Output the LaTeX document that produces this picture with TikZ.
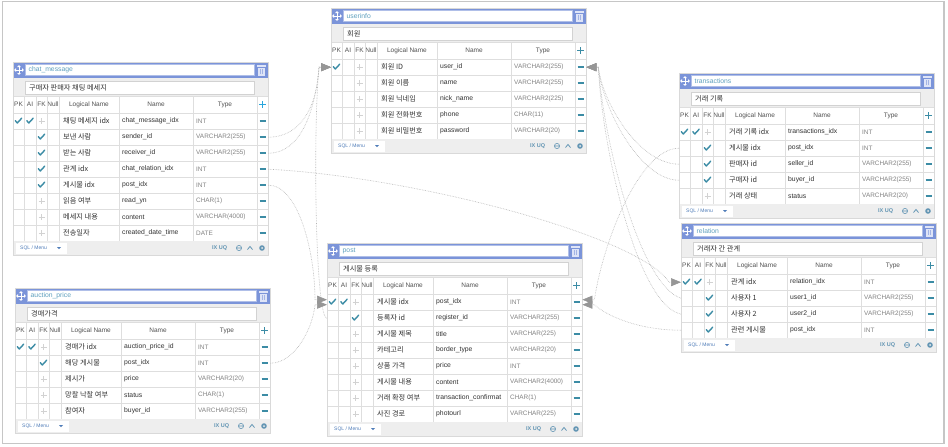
\documentclass[tikz,border=0pt]{standalone}
\usepackage{fontspec}
\setmainfont{Liberation Sans}
\newfontfamily\krfont{Noto Sans CJK KR}
\usetikzlibrary{arrows.meta,calc}
\definecolor{titleblue}{RGB}{123,148,217}
\definecolor{trashc}{RGB}{222,228,247}
\definecolor{titletxt}{RGB}{95,160,190}
\definecolor{chkc}{RGB}{60,140,165}
\definecolor{gridc}{RGB}{222,222,222}
\definecolor{cmtbg}{RGB}{238,238,238}
\definecolor{linkc}{RGB}{80,125,185}
\definecolor{iconc}{RGB}{100,150,180}
\definecolor{pluscyan}{RGB}{40,165,220}
\definecolor{txtc}{RGB}{50,50,50}
\definecolor{typec}{RGB}{130,130,130}
\definecolor{connc}{RGB}{180,180,180}
\definecolor{arrc}{RGB}{150,150,150}
\tikzset{
  txt/.style={inner sep=0pt, text=txtc, font=\fontsize{6.8}{8}\selectfont},
  krtxt/.style={inner sep=0pt, text=txtc, font=\krfont\fontsize{7.2}{8}\selectfont},
  tytxt/.style={inner sep=0pt, text=typec, font=\fontsize{6.4}{7}\selectfont},
  hdtxt/.style={inner sep=0pt, text=txtc!85, font=\fontsize{6.5}{7}\selectfont},
  ttltxt/.style={inner sep=0pt, text=titletxt, font=\fontsize{6.8}{8}\selectfont},
  ftxt/.style={inner sep=0pt, text=linkc, font=\fontsize{5}{6}\selectfont},
  icontxt/.style={inner sep=0pt, text=iconc, font=\bfseries\fontsize{5.5}{6}\selectfont},
  rowbox/.style={inner sep=0pt, minimum width=255pt, minimum height=16pt, anchor=north west},
  conn/.style={draw=connc, densely dotted, line width=0.6pt, -{Triangle[length=10pt,width=8pt,color=arrc]}},
  chk/.pic={\draw[chkc, line width=1.4pt, line cap=round, line join=round] (-3.2,-0.3) -- (-1.2,2) -- (3.2,-2.8);},
  crs/.pic={\draw[gray!35, line width=0.5pt] (-3,0) -- (3,0) (0,-3) -- (0,3);},
  movei/.pic={\draw[white, line width=0.8pt] (0,-4) -- (0,4) (-4,0) -- (4,0);
    \fill[white] (0,-5) -- (-1.8,-3) -- (1.8,-3) -- cycle (0,5) -- (-1.8,3) -- (1.8,3) -- cycle
      (-5,0) -- (-3,-1.8) -- (-3,1.8) -- cycle (5,0) -- (3,-1.8) -- (3,1.8) -- cycle;}
}
\newcommand\erdtable[8]{%
\begin{scope}[shift={(#2,#3)}]
 \pgfmathsetmacro\rbot{51+16*#4}
 \pgfmathsetmacro\tbot{\rbot+14}
 \pgfmathsetmacro\fy{\rbot+7}
 \fill[white] (0,0) rectangle (255,\tbot);
 \fill[titleblue] (0,0) rectangle (255,16);
 \draw[fill=white, draw=titleblue!60] (12,2.5) rectangle (241,13.5);
 \node[ttltxt, anchor=west] at (15.5,8) {#5};
 \pic at (6,8) {movei};
 \fill[trashc] (245,5.5) rectangle (251.5,13.5);
 \fill[trashc] (244,3.3) rectangle (252.5,4.7);
 \draw[titleblue!70, line width=0.4pt] (247,7) -- (247,12) (249.5,7) -- (249.5,12);
 \fill[cmtbg] (0,16) rectangle (255,34);
 \draw[fill=white, draw=gray!35] (12,19) rectangle (241,32);
 \node[krtxt, anchor=west] at (16,25.5) {#6};
 \node[hdtxt] at (5.5,42.5) {PK};
 \node[hdtxt] at (17,42.5) {AI};
 \node[hdtxt] at (28.5,42.5) {FK};
 \node[hdtxt] at (40,42.5) {Null};
 \node[hdtxt] at (76,42.5) {Logical Name};
 \node[hdtxt] at (143,42.5) {Name};
 \node[hdtxt] at (212,42.5) {Type};
 \draw[#8, line width=1.3pt] (246,42.5) -- (253,42.5) (249.5,39) -- (249.5,46);
 \draw[gridc] (0,34) -- (255,34);
 \foreach \gx in {11,23,34,46,106,180,244} \draw[gridc] (\gx,34) -- (\gx,\rbot);
 \foreach \gi in {0,...,#4} \draw[gridc] (0,{51+16*\gi}) -- (255,{51+16*\gi});
 \foreach \cPK/\cAI/\cFK/\cLg/\cNm/\cTy [count=\ri] in {#7} {
   \node[rowbox] (#1-\ri) at (0,{51+16*(\ri-1)}) {};
   \pgfmathsetmacro\yc{43+16*\ri}
   \ifnum\cPK=1 \pic at (5.5,\yc) {chk};\fi
   \ifnum\cAI=1 \pic at (17,\yc) {chk};\fi
   \ifnum\cFK=1 \pic at (28.5,\yc) {chk};\else \pic at (28.5,\yc) {crs};\fi
   \node[krtxt, anchor=west] at (50,\yc) {\cLg};
   \node[txt, anchor=west] at (109,\yc) {\cNm};
   \node[tytxt, anchor=west] at (183,\yc) {\cTy};
   \draw[chkc, line width=1.1pt] (246.5,\yc) -- (252.5,\yc);
 }
 \fill[cmtbg] (0,\rbot) rectangle (255,\tbot);
 \fill[white] (3,{\rbot+2}) rectangle (54,{\rbot+12.5});
 \node[ftxt, anchor=west] at (7,\fy) {SQL / Menu};
 \fill[linkc] (44,{\fy-1}) -- (48,{\fy-1}) -- (46,{\fy+1.2}) -- cycle;
 \node[icontxt, anchor=west] at (199,\fy) {IX UQ};
 \draw[iconc, line width=0.6pt] (226,\fy) circle (2.6pt) (223.4,\fy) -- (228.6,\fy);
 \draw[iconc, line width=0.8pt] (234.5,{\fy+1.5}) -- (237,{\fy-1.5}) -- (239.5,{\fy+1.5});
 \fill[iconc] (249,\fy) circle (2.8pt);
 \fill[cmtbg] (249,\fy) circle (1pt);
 \draw[gray!30] (0,0) rectangle (255,\tbot);
\end{scope}}
\begin{document}
\begin{tikzpicture}[x=1pt,y=-1pt]
\useasboundingbox (0,0) rectangle (948,447);
\fill[white] (0,0) rectangle (948,447);
\draw[gray!45, line width=1.2pt] (2.5,1.2) rectangle (944,443.5);

\erdtable{chat}{13}{62}{8}{chat\_message}{구매자 판매자 채팅 메세지}{%
1/1/0/채팅 메세지 idx/chat\_message\_idx/INT,
0/0/1/보낸 사람/sender\_id/VARCHAR2(255),
0/0/1/받는 사람/receiver\_id/VARCHAR2(255),
0/0/1/관계 idx/chat\_relation\_idx/INT,
0/0/1/게시물 idx/post\_idx/INT,
0/0/0/읽음 여부/read\_yn/CHAR(1),
0/0/0/메세지 내용/content/VARCHAR(4000),
0/0/0/전송일자/created\_date\_time/DATE}{pluscyan}

\erdtable{user}{331}{8}{5}{userinfo}{회원}{%
1/0/0/회원 ID/user\_id/VARCHAR2(255),
0/0/0/회원 이름/name/VARCHAR2(255),
0/0/0/회원 닉네임/nick\_name/VARCHAR2(225),
0/0/0/회원 전화번호/phone/CHAR(11),
0/0/0/회원 비밀번호/password/VARCHAR2(20)}{chkc}

\erdtable{trans}{679}{73}{5}{transactions}{거래 기록}{%
1/1/0/거래 기록 idx/transactions\_idx/INT,
0/0/1/게시물 idx/post\_idx/INT,
0/0/1/판매자 id/seller\_id/VARCHAR2(255),
0/0/1/구매자 id/buyer\_id/VARCHAR2(255),
0/0/0/거래 상태/status/VARCHAR2(20)}{chkc}

\erdtable{rel}{681}{223}{4}{relation}{거래자 간 관계}{%
1/1/0/관계 idx/relation\_idx/INT,
0/0/1/사용자 1/user1\_id/VARCHAR2(255),
0/0/1/사용자 2/user2\_id/VARCHAR2(255),
0/0/1/관련 게시물/post\_idx/INT}{chkc}

\erdtable{post}{327}{243}{8}{post}{게시물 등록}{%
1/1/0/게시물 idx/post\_idx/INT,
0/0/1/등록자 id/register\_id/VARCHAR2(255),
0/0/0/게시물 제목/title/VARCHAR(225),
0/0/0/카테고리/border\_type/VARCHAR2(20),
0/0/0/상품 가격/price/INT,
0/0/0/게시물 내용/content/VARCHAR2(4000),
0/0/0/거래 확정 여부/transaction\_confirmat/CHAR(1),
0/0/0/사진 경로/photourl/VARCHAR(225)}{chkc}

\erdtable{auction}{15}{288}{5}{auction\_price}{경매가격}{%
1/1/0/경매가 idx/auction\_price\_id/INT,
0/0/1/해당 게시물/post\_idx/INT,
0/0/0/제시가/price/VARCHAR2(20),
0/0/0/망찰 낙찰 여부/status/CHAR(1),
0/0/0/참여자/buyer\_id/VARCHAR2(255)}{chkc}

% connectors into userinfo (left)
\draw[conn] (chat-2.east) .. controls ($(chat-2.east)+(32,0)$) and ($(user-1.west)+(-14,40)$) .. ($(user-1.west)+(-12,0)$) -- (user-1.west);
\draw[conn] (chat-3.east) .. controls ($(chat-3.east)+(32,0)$) and ($(user-1.west)+(-16,45)$) .. ($(user-1.west)+(-12,0)$) -- (user-1.west);
\draw[conn] (post-2.west) .. controls ($(post-2.west)+(-12,0)$) and ($(user-1.west)+(-18,60)$) .. ($(user-1.west)+(-12,0)$) -- (user-1.west);
% chat relation to relation
\draw[conn] (chat-4.east) .. controls ($(chat-4.east)+(150,8)$) and ($(rel-1.west)+(-40,-45)$) .. ($(rel-1.west)+(-12,0)$) -- (rel-1.west);
% into post (left)
\draw[conn] (chat-5.east) .. controls ($(chat-5.east)+(30,0)$) and ($(post-1.west)+(-12,-50)$) .. ($(post-1.west)+(-12,-2.5)$) -- ($(post-1.west)+(0,-2.5)$);
\draw[conn] (auction-2.east) .. controls ($(auction-2.east)+(25,0)$) and ($(post-1.west)+(-14,25)$) .. ($(post-1.west)+(-12,2.5)$) -- ($(post-1.west)+(0,2.5)$);
% into userinfo (right)
\draw[conn] (trans-3.west) .. controls ($(trans-3.west)+(-40,0)$) and ($(user-1.east)+(16,35)$) .. ($(user-1.east)+(12,0)$) -- (user-1.east);
\draw[conn] (trans-4.west) .. controls ($(trans-4.west)+(-40,0)$) and ($(user-1.east)+(15,38)$) .. ($(user-1.east)+(12,0)$) -- (user-1.east);
\draw[conn] (rel-2.west) .. controls ($(rel-2.west)+(-41,-13)$) and ($(user-1.east)+(17,73)$) .. ($(user-1.east)+(12,0)$) -- (user-1.east);
\draw[conn] (rel-3.west) .. controls ($(rel-3.west)+(-45,-10)$) and ($(user-1.east)+(15,75)$) .. ($(user-1.east)+(12,0)$) -- (user-1.east);
% into post (right)
\draw[conn] (trans-2.west) .. controls ($(trans-2.west)+(-39,0)$) and ($(post-1.east)+(21,-62)$) .. ($(post-1.east)+(12,-2.5)$) -- ($(post-1.east)+(0,-2.5)$);
\draw[conn] (rel-4.west) .. controls ($(rel-4.west)+(-45,0)$) and ($(post-1.east)+(22,12)$) .. ($(post-1.east)+(12,2.5)$) -- ($(post-1.east)+(0,2.5)$);
\end{tikzpicture}
\end{document}
